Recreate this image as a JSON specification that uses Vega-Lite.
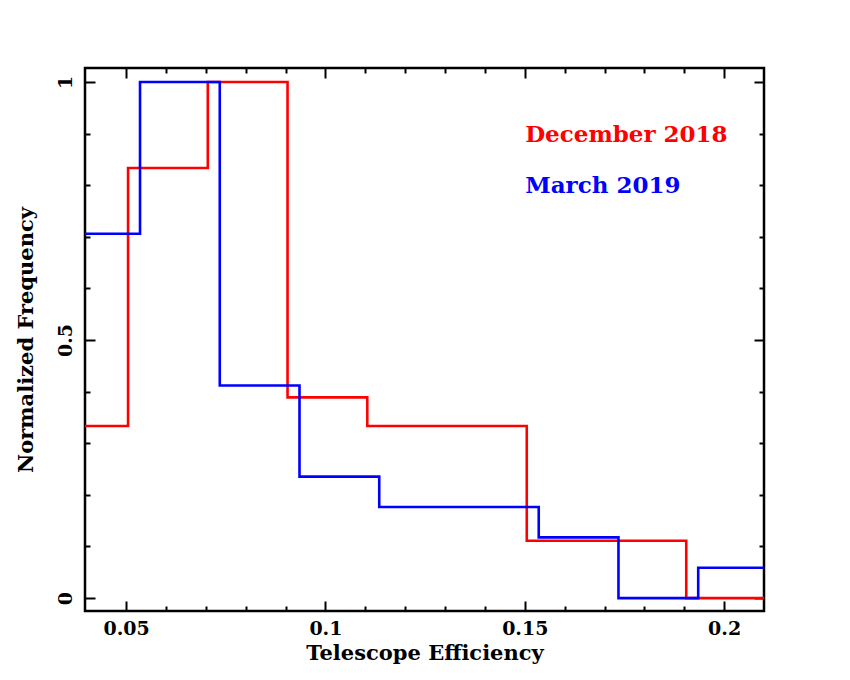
{
  "$schema": "https://vega.github.io/schema/vega-lite/v6.json",
  "width": 679,
  "height": 543,
  "autosize": {"type": "none"},
  "padding": {"left": 85, "top": 68, "right": 86, "bottom": 69},
  "background": "white",
  "datasets": {
    "dec2018": [
      {"efficiency": 0.0305, "freq": 0.3333},
      {"efficiency": 0.0505, "freq": 0.8333},
      {"efficiency": 0.0705, "freq": 1.0},
      {"efficiency": 0.0905, "freq": 0.3889},
      {"efficiency": 0.1105, "freq": 0.3333},
      {"efficiency": 0.1305, "freq": 0.3333},
      {"efficiency": 0.1505, "freq": 0.1111},
      {"efficiency": 0.1705, "freq": 0.1111},
      {"efficiency": 0.1905, "freq": 0.0},
      {"efficiency": 0.2105, "freq": 0.0}
    ],
    "mar2019": [
      {"efficiency": 0.0335, "freq": 0.7059},
      {"efficiency": 0.0535, "freq": 1.0},
      {"efficiency": 0.0735, "freq": 0.4118},
      {"efficiency": 0.0935, "freq": 0.2353},
      {"efficiency": 0.1135, "freq": 0.1765},
      {"efficiency": 0.1335, "freq": 0.1765},
      {"efficiency": 0.1535, "freq": 0.1176},
      {"efficiency": 0.1735, "freq": 0.0},
      {"efficiency": 0.1935, "freq": 0.0588},
      {"efficiency": 0.2135, "freq": 0.0588}
    ],
    "labels": [
      {"label": "December 2018", "efficiency": 0.1501, "freq": 0.884},
      {"label": "March 2019", "efficiency": 0.1501, "freq": 0.785}
    ]
  },
  "resolve": {"axis": {"x": "independent", "y": "independent"}},
  "layer": [
    {
      "data": {"name": "dec2018"},
      "mark": {"type": "line", "interpolate": "step-after", "color": "#ff0000", "strokeWidth": 2.6, "clip": true},
      "encoding": {
        "x": {
          "field": "efficiency", "type": "quantitative",
          "scale": {"domain": [0.0397, 0.2100], "nice": false, "zero": false},
          "axis": {
            "orient": "bottom", "title": "Telescope Efficiency",
            "values": [0.05, 0.1, 0.15, 0.2], "format": "~g",
            "tickSize": -10, "labelPadding": 18, "titlePadding": 4
          }
        },
        "y": {
          "field": "freq", "type": "quantitative",
          "scale": {"domain": [-0.025, 1.027], "nice": false, "zero": false},
          "axis": {
            "orient": "left", "title": "Normalized Frequency",
            "values": [0, 0.5, 1], "format": "~g",
            "tickSize": -10, "labelPadding": 24, "labelAngle": -90,
            "labelAlign": "center", "labelBaseline": "alphabetic", "titlePadding": 20
          }
        }
      }
    },
    {
      "data": {"name": "mar2019"},
      "mark": {"type": "line", "interpolate": "step-after", "color": "#0000ff", "strokeWidth": 2.6, "clip": true},
      "encoding": {
        "x": {
          "field": "efficiency", "type": "quantitative",
          "scale": {"domain": [0.0397, 0.2100], "nice": false, "zero": false},
          "axis": {
            "orient": "bottom", "title": null, "labels": false,
            "values": [0.06, 0.07, 0.08, 0.09, 0.11, 0.12, 0.13, 0.14, 0.16, 0.17, 0.18, 0.19],
            "tickSize": -5
          }
        },
        "y": {
          "field": "freq", "type": "quantitative",
          "scale": {"domain": [-0.025, 1.027], "nice": false, "zero": false},
          "axis": {
            "orient": "left", "title": null, "labels": false,
            "values": [0.1, 0.2, 0.3, 0.4, 0.6, 0.7, 0.8, 0.9],
            "tickSize": -5
          }
        }
      }
    },
    {
      "data": {"name": "labels"},
      "transform": [{"filter": "datum.label == 'December 2018'"}],
      "mark": {"type": "text", "align": "left", "baseline": "alphabetic", "color": "#ff0000", "fontSize": 23, "font": "DejaVu Serif", "fontWeight": "bold"},
      "encoding": {
        "x": {
          "field": "efficiency", "type": "quantitative",
          "scale": {"domain": [0.0397, 0.2100], "nice": false, "zero": false},
          "axis": {
            "orient": "top", "title": null, "labels": false,
            "values": [0.05, 0.1, 0.15, 0.2], "tickSize": -10
          }
        },
        "y": {
          "field": "freq", "type": "quantitative",
          "scale": {"domain": [-0.025, 1.027], "nice": false, "zero": false},
          "axis": {
            "orient": "right", "title": null, "labels": false,
            "values": [0, 0.5, 1], "tickSize": -10
          }
        },
        "text": {"field": "label"}
      }
    },
    {
      "data": {"name": "labels"},
      "transform": [{"filter": "datum.label == 'March 2019'"}],
      "mark": {"type": "text", "align": "left", "baseline": "alphabetic", "color": "#0000ff", "fontSize": 23, "font": "DejaVu Serif", "fontWeight": "bold"},
      "encoding": {
        "x": {
          "field": "efficiency", "type": "quantitative",
          "scale": {"domain": [0.0397, 0.2100], "nice": false, "zero": false},
          "axis": {
            "orient": "top", "title": null, "labels": false,
            "values": [0.06, 0.07, 0.08, 0.09, 0.11, 0.12, 0.13, 0.14, 0.16, 0.17, 0.18, 0.19],
            "tickSize": -5
          }
        },
        "y": {
          "field": "freq", "type": "quantitative",
          "scale": {"domain": [-0.025, 1.027], "nice": false, "zero": false},
          "axis": {
            "orient": "right", "title": null, "labels": false,
            "values": [0.1, 0.2, 0.3, 0.4, 0.6, 0.7, 0.8, 0.9],
            "tickSize": -5
          }
        },
        "text": {"field": "label"}
      }
    }
  ],
  "config": {
    "font": "DejaVu Serif",
    "view": {"stroke": "black", "strokeWidth": 2.5},
    "axis": {
      "domain": false,
      "grid": false,
      "tickColor": "black",
      "tickWidth": 2,
      "labelColor": "black",
      "labelFont": "DejaVu Serif",
      "labelFontWeight": "bold",
      "labelFontSize": 19,
      "titleColor": "black",
      "titleFont": "DejaVu Serif",
      "titleFontWeight": "bold",
      "titleFontSize": 21
    }
  }
}
